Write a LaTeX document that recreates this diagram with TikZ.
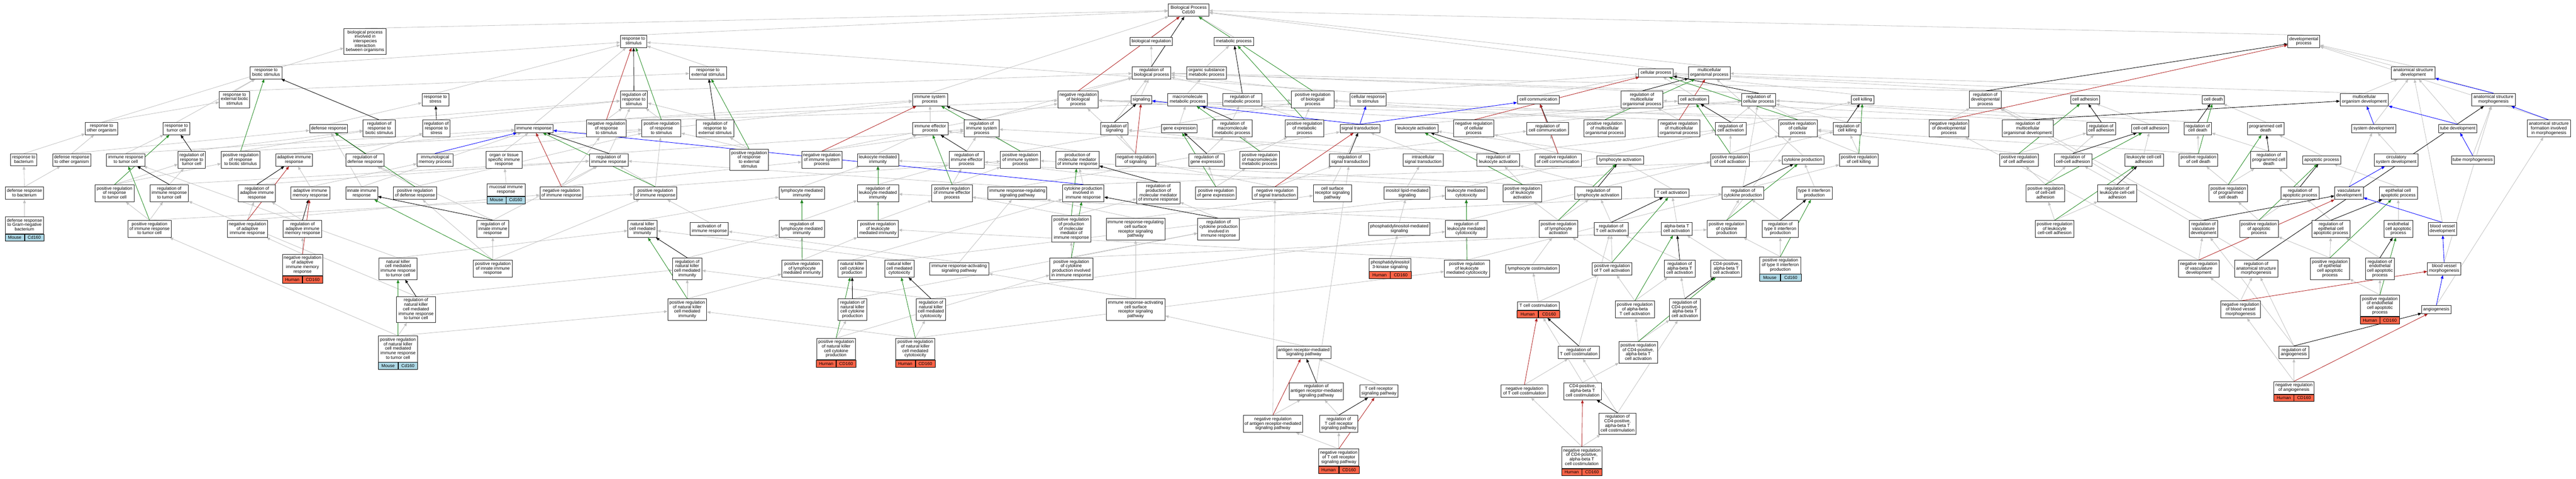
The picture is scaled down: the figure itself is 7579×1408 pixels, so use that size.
\documentclass[tikz,border=0pt]{standalone}
\usepackage{fontspec}
\newfontfamily\nf{Liberation Sans}
\usetikzlibrary{arrows.meta,fit}
\definecolor{eg}{HTML}{C0C0C0}
\definecolor{eG}{HTML}{228B22}
\definecolor{eR}{HTML}{B22222}
\definecolor{eB}{HTML}{0000FF}
\definecolor{mouse}{HTML}{ADD8E6}
\definecolor{human}{HTML}{FF6347}
\newcommand\nstrut{\rule[-3.3pt]{0pt}{13.2pt}}
\pgfdeclarelayer{bg}\pgfdeclarelayer{mid}\pgfsetlayers{bg,mid,main}
\tikzset{
 box/.style={draw=black!85,line width=1.3pt,fill=white,align=center,inner xsep=4pt,inner ysep=5.4pt,
   font=\nf\fontsize{13pt}{13.2pt}\selectfont,execute at begin node=\nstrut,execute at end node=\nstrut},
 gl/.style={draw=black,line width=1pt,inner sep=0pt,minimum height=21pt,font=\nf\fontsize{13pt}{13.2pt}\selectfont},
 etip/.style={-{Triangle[length=10pt,width=8pt]}},
 eisa/.style={draw=eg,line width=1.2pt,etip},
 ereg/.style={draw=black,line width=1.3pt,etip},
 epos/.style={draw=eG,line width=1.3pt,etip},
 eneg/.style={draw=eR,line width=1.3pt,etip},
 eprt/.style={draw=eB,line width=1.3pt,etip}
}
\newcommand\mkn[5]{\node[box,minimum width=#4pt] (#1) at (#2,#3) {#5};}
\newcommand\mkg[8]{\mkn{#1}{#2}{#3}{#4}{#5}%
 \node[gl,fill=#7,minimum width={#4pt/2},anchor=north east] (#1L) at (#1.south) {#6};%
 \node[gl,fill=#7,minimum width={#4pt/2},anchor=north west] (#1R) at (#1.south) {#8};%
 \node[fit=(#1)(#1L)(#1R),inner sep=0pt] (#1all) {};}
\newcommand\mkm[5]{\mkg{#1}{#2}{#3}{#4}{#5}{Mouse}{mouse}{Cd160}}
\newcommand\mkh[5]{\mkg{#1}{#2}{#3}{#4}{#5}{Human}{human}{CD160}}
\begin{document}
\begin{tikzpicture}[x=1pt,y=-1pt]
\useasboundingbox (0,0) rectangle (7579,1408);
% ---------- nodes ----------
\mkn{bpii}{1074}{122}{124}{biological process\\involved in\\interspecies\\interaction\\between organisms}
\mkn{rbs}{783}{214}{95}{response to\\biotic stimulus}
\mkn{rebs}{690}{293}{89}{response to\\external biotic\\stimulus}
\mkn{roo}{299}{378}{96}{response to\\other organism}
\mkn{rtc}{519}{378}{79}{response to\\tumor cell}
\mkn{dr}{967}{378}{112}{defense response}
\mkn{rrbs}{1116}{378}{95}{regulation of\\response to\\biotic stimulus}
\mkn{rb}{70}{470}{78}{response to\\bacterium}
\mkn{droo}{211}{470}{112}{defense response\\to other organism}
\mkn{irtc}{370}{470}{113}{immune response\\to tumor cell}
\mkn{rrtc}{564}{470}{80}{regulation of\\response to\\tumor cell}
\mkn{prrbs}{708}{470}{114}{positive regulation\\of response\\to biotic stimulus}
\mkn{air}{865}{470}{108}{adaptive immune\\response}
\mkn{rdr}{1074}{470}{113}{regulation of\\defense response}
\mkn{imp}{1280}{470}{106}{immunological\\memory process}
\mkn{drb}{72}{568}{113}{defense response\\to bacterium}
\mkn{prrtc}{337}{568}{115}{positive regulation\\of response\\to tumor cell}
\mkn{rirtc}{498}{568}{113}{regulation of\\immune response\\to tumor cell}
\mkn{rair}{756}{568}{109}{regulation of\\adaptive immune\\response}
\mkn{aimr}{913}{568}{114}{adaptive immune\\memory response}
\mkn{iir}{1064}{568}{94}{innate immune\\response}
\mkn{prdr}{1221}{568}{128}{positive regulation\\of defense response}
\mkm{drgnb}{72}{662}{113}{defense response\\to Gram-negative\\bacterium}
\mkn{prirtc}{440}{673}{127}{positive regulation\\of immune response\\to tumor cell}
\mkn{nrair}{728}{673}{117}{negative regulation\\of adaptive\\immune response}
\mkn{raimr}{890}{673}{114}{regulation of\\adaptive immune\\memory response}
\mkh{nraimr}{890}{779}{118}{negative regulation\\of adaptive\\immune memory\\response}
\mkn{nkirtc}{1171}{790}{113}{natural killer\\cell mediated\\immune response\\to tumor cell}
\mkn{rnkirtc}{1224}{910}{114}{regulation of\\natural killer\\cell mediated\\immune response\\to tumor cell}
\mkm{prnkirtc}{1171}{1026}{115}{positive regulation\\of natural killer\\cell mediated\\immune response\\to tumor cell}
\mkn{rs}{1864}{122}{78}{response to\\stimulus}
\mkn{res}{2083}{214}{109}{response to\\external stimulus}
\mkn{rstress}{1281}{293}{79}{response to\\stress}
\mkn{rrs}{1865}{293}{80}{regulation of\\response to\\stimulus}
\mkn{rrstress}{1284}{378}{78}{regulation of\\response to\\stress}
\mkn{ir}{1571}{378}{112}{immune response}
\mkn{nrrs}{1784}{378}{118}{negative regulation\\of response\\to stimulus}
\mkn{prrs}{1946}{378}{115}{positive regulation\\of response\\to stimulus}
\mkn{rres}{2104}{378}{110}{regulation of\\response to\\external stimulus}
\mkn{otsir}{1483}{470}{105}{organ or tissue\\specific immune\\response}
\mkn{rir}{1791}{470}{114}{regulation of\\immune response}
\mkn{prres}{2204}{470}{114}{positive regulation\\of response\\to external\\stimulus}
\mkn{nrisp}{2418}{470}{118}{negative regulation\\of immune system\\process}
\mkn{lmi}{2583}{470}{121}{leukocyte mediated\\immunity}
\mkm{mir}{1489}{558}{111}{mucosal immune\\response}
\mkn{nrir}{1652}{568}{127}{negative regulation\\of immune response}
\mkn{prir}{1928}{568}{127}{positive regulation\\of immune response}
\mkn{lymi}{2359}{568}{134}{lymphocyte mediated\\immunity}
\mkn{rlmi}{2583}{568}{121}{regulation of\\leukocyte mediated\\immunity}
\mkn{riir}{1450}{673}{93}{regulation of\\innate immune\\response}
\mkn{nkmi}{1890}{673}{86}{natural killer\\cell mediated\\immunity}
\mkn{air2}{2087}{673}{112}{activation of\\immune response}
\mkn{rlymi}{2359}{673}{134}{regulation of\\lymphocyte mediated\\immunity}
\mkn{prlmi}{2583}{673}{120}{positive regulation\\of leukocyte\\mediated immunity}
\mkn{priir}{1450}{790}{115}{positive regulation\\of innate immune\\response}
\mkn{rnkmi}{2022}{790}{86}{regulation of\\natural killer\\cell mediated\\immunity}
\mkn{prnkmi}{2022}{910}{115}{positive regulation\\of natural killer\\cell mediated\\immunity}
\mkn{prlymi}{2360}{790}{120}{positive regulation\\of lymphocyte\\mediated immunity}
\mkn{nkcp}{2507}{790}{82}{natural killer\\cell cytokine\\production}
\mkn{rnkcp}{2508}{910}{84}{regulation of\\natural killer\\cell cytokine\\production}
\mkh{prnkcp}{2460}{1026}{115}{positive regulation\\of natural killer\\cell cytokine\\production}
\mkn{bp}{3497}{30}{120}{Biological Process\\Cd160}
\mkn{br}{3387}{122}{125}{biological regulation}
\mkn{mp}{3630}{122}{117}{metabolic process}
\mkn{rbp}{3388}{214}{114}{regulation of\\biological process}
\mkn{osmp}{3550}{214}{116}{organic substance\\metabolic process}
\mkn{isp}{2736}{293}{103}{immune system\\process}
\mkn{nrbp}{3172}{293}{119}{negative regulation\\of biological\\process}
\mkn{sig}{3358}{293}{61}{signaling}
\mkn{mmp}{3494}{293}{116}{macromolecule\\metabolic process}
\mkn{rmp}{3655}{293}{116}{regulation of\\metabolic process}
\mkn{prbp}{3862}{293}{125}{positive regulation\\of biological\\process}
\mkn{iep}{2737}{378}{104}{immune effector\\process}
\mkn{risp}{2888}{378}{103}{regulation of\\immune system\\process}
\mkn{rsig}{3279}{378}{80}{regulation of\\signaling}
\mkn{ge}{3470}{378}{105}{gene expression}
\mkn{rmmp}{3626}{378}{116}{regulation of\\macromolecule\\metabolic process}
\mkn{prmp}{3838}{378}{113}{positive regulation\\of metabolic\\process}
\mkn{riep}{2844}{470}{104}{regulation of\\immune effector\\process}
\mkn{prisp}{3002}{470}{117}{positive regulation\\of immune system\\process}
\mkn{pmmir}{3170}{470}{127}{production of\\molecular mediator\\of immune response}
\mkn{nrsig}{3341}{470}{117}{negative regulation\\of signaling}
\mkn{rge}{3550}{470}{105}{regulation of\\gene expression}
\mkn{prmmp}{3706}{470}{116}{positive regulation\\of macromolecule\\metabolic process}
\mkn{priep}{2801}{568}{119}{positive regulation\\of immune effector\\process}
\mkn{irrsp}{2993}{568}{172}{immune response-regulating\\signaling pathway}
\mkn{cpiir}{3187}{568}{122}{cytokine production\\involved in\\immune response}
\mkn{rpmmir}{3408}{568}{127}{regulation of\\production of\\molecular mediator\\of immune response}
\mkn{prge}{3577}{568}{119}{positive regulation\\of gene expression}
\mkn{nrst}{3751}{568}{134}{negative regulation\\of signal transduction}
\mkn{prpmmir}{3152}{673}{114}{positive regulation\\of production\\of molecular\\mediator of\\immune response}
\mkn{irrcs}{3341}{674}{173}{immune response-regulating\\cell surface\\receptor signaling\\pathway}
\mkn{rcpiir}{3585}{674}{122}{regulation of\\cytokine production\\involved in\\immune response}
\mkn{nkcyt}{2646}{790}{86}{natural killer\\cell mediated\\cytotoxicity}
\mkn{irasp}{2822}{790}{174}{immune response-activating\\signaling pathway}
\mkn{prcpiir}{3152}{790}{127}{positive regulation\\of cytokine\\production involved\\in immune response}
\mkn{rnkcyt}{2739}{910}{86}{regulation of\\natural killer\\cell mediated\\cytotoxicity}
\mkn{iracs}{3341}{910}{173}{immune response-activating\\cell surface\\receptor signaling\\pathway}
\mkh{prnkcyt}{2693}{1026}{116}{positive regulation\\of natural killer\\cell mediated\\cytotoxicity}
\mkn{arsp}{3836}{1036}{160}{antigen receptor-mediated\\signaling pathway}
\mkn{rarsp}{3873}{1150}{160}{regulation of\\antigen receptor-mediated\\signaling pathway}
\mkn{nrarsp}{3745}{1246}{175}{negative regulation\\of antigen receptor-mediated\\signaling pathway}
\mkn{cp}{4872}{214}{101}{cellular process}
\mkn{mop}{5029}{214}{122}{multicellular\\organismal process}
\mkn{crs}{4025}{293}{107}{cellular response\\to stimulus}
\mkn{cc}{4526}{293}{124}{cell communication}
\mkn{rmop}{4831}{293}{123}{regulation of\\multicellular\\organismal process}
\mkn{ca}{4982}{293}{90}{cell activation}
\mkn{st}{4001}{378}{117}{signal transduction}
\mkn{la}{4168}{378}{125}{leukocyte activation}
\mkn{nrcp}{4336}{378}{119}{negative regulation\\of cellular\\process}
\mkn{rcc}{4553}{378}{122}{regulation of\\cell communication}
\mkn{prmop}{4721}{378}{122}{positive regulation\\of multicellular\\organismal process}
\mkn{nrmop}{4940}{378}{122}{negative regulation\\of multicellular\\organismal process}
\mkn{rca}{5092}{378}{90}{regulation of\\cell activation}
\mkn{rst}{3971}{470}{118}{regulation of\\signal transduction}
\mkn{ist}{4187}{470}{119}{intracellular\\signal transduction}
\mkn{rla}{4408}{470}{125}{regulation of\\leukocyte activation}
\mkn{nrcc}{4584}{470}{136}{negative regulation\\of cell communication}
\mkn{lya}{4767}{470}{137}{lymphocyte activation}
\mkn{prca}{5090}{470}{114}{positive regulation\\of cell activation}
\mkn{csrsp}{3920}{568}{112}{cell surface\\receptor signaling\\pathway}
\mkn{ilms}{4140}{568}{135}{inositol lipid-mediated\\signaling}
\mkn{lmc}{4314}{568}{122}{leukocyte mediated\\cytotoxicity}
\mkn{prla}{4479}{568}{114}{positive regulation\\of leukocyte\\activation}
\mkn{rlya}{4702}{568}{137}{regulation of\\lymphocyte activation}
\mkn{tca}{4919}{568}{102}{T cell activation}
\mkn{rcp}{5128}{568}{122}{regulation of\\cytokine production}
\mkn{pims}{4117}{673}{181}{phosphatidylinositol-mediated\\signaling}
\mkn{rlmc}{4314}{673}{122}{regulation of\\leukocyte mediated\\cytotoxicity}
\mkn{prlya}{4585}{673}{114}{positive regulation\\of lymphocyte\\activation}
\mkn{rtca}{4740}{673}{100}{regulation of\\T cell activation}
\mkn{abtca}{4933}{673}{91}{alpha-beta T\\cell activation}
\mkn{prcp}{5080}{673}{115}{positive regulation\\of cytokine\\production}
\mkh{pi3k}{4090}{779}{123}{phosphatidylinositol\\3-kinase signaling}
\mkn{prlmc}{4316}{790}{133}{positive regulation\\of leukocyte\\mediated cytotoxicity}
\mkn{lcs}{4509}{790}{158}{lymphocyte costimulation}
\mkn{prtca}{4743}{790}{117}{positive regulation\\of T cell activation}
\mkn{rabtca}{4942}{790}{91}{regulation of\\alpha-beta T\\cell activation}
\mkn{cd4a}{5079}{790}{91}{CD4-positive,\\alpha-beta T\\cell activation}
\mkh{tcs}{4526}{900}{124}{T cell costimulation}
\mkn{prabtca}{4810}{910}{115}{positive regulation\\of alpha-beta\\T cell activation}
\mkn{rcd4a}{4957}{910}{90}{regulation of\\CD4-positive,\\alpha-beta T\\cell activation}
\mkn{rtcs}{4645}{1036}{122}{regulation of\\T cell costimulation}
\mkn{prcd4a}{4820}{1036}{114}{positive regulation\\of CD4-positive,\\alpha-beta T\\cell activation}
\mkn{tcrsp}{4057}{1150}{113}{T cell receptor\\signaling pathway}
\mkn{nrtcs}{4485}{1150}{138}{negative regulation\\of T cell costimulation}
\mkn{cd4cs}{4656}{1150}{111}{CD4-positive,\\alpha-beta T\\cell costimulation}
\mkn{rtcrsp}{3939}{1246}{112}{regulation of\\T cell receptor\\signaling pathway}
\mkn{rcd4cs}{4759}{1246}{110}{regulation of\\CD4-positive,\\alpha-beta T\\cell costimulation}
\mkh{nrtcrsp}{3939}{1345}{119}{negative regulation\\of T cell receptor\\signaling pathway}
\mkh{nrcd4cs}{4654}{1345}{118}{negative regulation\\of CD4-positive,\\alpha-beta T\\cell costimulation}
\mkn{rcpr}{5174}{293}{101}{regulation of\\cellular process}
\mkn{ck}{5480}{293}{66}{cell killing}
\mkn{rdp}{5841}{293}{94}{regulation of\\developmental\\process}
\mkn{cad}{6135}{293}{86}{cell adhesion}
\mkn{prcpr}{5290}{378}{114}{positive regulation\\of cellular\\process}
\mkn{rck}{5435}{378}{81}{regulation of\\cell killing}
\mkn{nrdp}{5734}{378}{118}{negative regulation\\of developmental\\process}
\mkn{rmod}{5966}{378}{151}{regulation of\\multicellular\\organismal development}
\mkn{rcad}{6182}{378}{86}{regulation of\\cell adhesion}
\mkn{ccad}{6326}{378}{110}{cell-cell adhesion}
\mkn{cytp}{5305}{470}{123}{cytokine production}
\mkn{prck}{5469}{470}{114}{positive regulation\\of cell killing}
\mkn{prcad}{5940}{470}{113}{positive regulation\\of cell adhesion}
\mkn{rccad}{6099}{470}{110}{regulation of\\cell-cell adhesion}
\mkn{lccad}{6308}{470}{114}{leukocyte cell-cell\\adhesion}
\mkn{t2ip}{5338}{568}{105}{type II interferon\\production}
\mkn{prccad}{6018}{568}{114}{positive regulation\\of cell-cell\\adhesion}
\mkn{rlccad}{6229}{568}{114}{regulation of\\leukocyte cell-cell\\adhesion}
\mkn{rt2ip}{5238}{673}{106}{regulation of\\type II interferon\\production}
\mkn{prlccad}{6045}{673}{114}{positive regulation\\of leukocyte\\cell-cell adhesion}
\mkm{prt2ip}{5238}{780}{122}{positive regulation\\of type II interferon\\production}
\mkn{dp}{6778}{122}{94}{developmental\\process}
\mkn{asd}{7100}{214}{128}{anatomical structure\\development}
\mkn{cd}{6512}{293}{66}{cell death}
\mkn{mod}{6956}{293}{142}{multicellular\\organism development}
\mkn{asm}{7336}{293}{128}{anatomical structure\\morphogenesis}
\mkn{rcd}{6466}{378}{81}{regulation of\\cell death}
\mkn{pcd}{6666}{378}{107}{programmed cell\\death}
\mkn{sd}{6984}{378}{130}{system development}
\mkn{td}{7231}{378}{112}{tube development}
\mkn{asfm}{7499}{378}{128}{anatomical structure\\formation involved\\in morphogenesis}
\mkn{prcd}{6468}{470}{113}{positive regulation\\of cell death}
\mkn{rpcd}{6675}{470}{106}{regulation of\\programmed cell\\death}
\mkn{ap}{6831}{470}{112}{apoptotic process}
\mkn{csd}{7050}{470}{129}{circulatory\\system development}
\mkn{tm}{7275}{470}{126}{tube morphogenesis}
\mkn{prpcd}{6556}{568}{114}{positive regulation\\of programmed\\cell death}
\mkn{rap}{6767}{568}{112}{regulation of\\apoptotic process}
\mkn{vd}{6911}{568}{84}{vasculature\\development}
\mkn{ecap}{7056}{568}{112}{epithelial cell\\apoptotic process}
\mkn{rvd}{6483}{673}{83}{regulation of\\vasculature\\development}
\mkn{prap}{6646}{673}{114}{positive regulation\\of apoptotic\\process}
\mkn{recap}{6858}{673}{113}{regulation of\\epithelial cell\\apoptotic process}
\mkn{encap}{7056}{673}{85}{endothelial\\cell apoptotic\\process}
\mkn{bvd}{7186}{673}{83}{blood vessel\\development}
\mkn{nrvd}{6469}{790}{119}{negative regulation\\of vasculature\\development}
\mkn{rasm}{6638}{790}{127}{regulation of\\anatomical structure\\morphogenesis}
\mkn{precap}{6855}{790}{115}{positive regulation\\of epithelial\\cell apoptotic\\process}
\mkn{rencap}{7002}{790}{86}{regulation of\\endothelial\\cell apoptotic\\process}
\mkn{bvm}{7191}{790}{98}{blood vessel\\morphogenesis}
\mkn{nrbvm}{6592}{910}{117}{negative regulation\\of blood vessel\\morphogenesis}
\mkh{prencap}{7002}{899}{115}{positive regulation\\of endothelial\\cell apoptotic\\process}
\mkn{ang}{7168}{910}{86}{angiogenesis}
\mkn{rang}{6749}{1036}{87}{regulation of\\angiogenesis}
\mkh{nrang}{6749}{1140}{117}{negative regulation\\of angiogenesis}
% ---------- edges ----------
\begin{pgfonlayer}{bg}
\fill[white] (0,0) rectangle (7579,1408);
\foreach \a/\b in {bpii/bp,rbs/rs,rebs/rbs,rebs/res,roo/bpii,roo/rebs,rtc/rbs,dr/rstress,rrbs/rrs,rb/roo,droo/roo,droo/dr,irtc/rtc,irtc/ir,rrtc/rrbs,prrbs/rrbs,prrbs/prrs,air/ir,rdr/rrstress,imp/isp,drb/rb,drb/droo,prrtc/rrtc,prrtc/prrbs,rirtc/rrtc,rirtc/rir,rair/rir,aimr/air,aimr/imp,iir/ir,iir/dr,prdr/rdr,prdr/prrs,drgnb/drb,prirtc/rirtc,prirtc/prrtc,prirtc/prir,nrair/rair,nrair/nrir,raimr/rair,nraimr/raimr,nraimr/nrair,nkirtc/irtc,nkirtc/nkmi,rnkirtc/rirtc,rnkirtc/rnkmi,prnkirtc/rnkirtc,prnkirtc/prirtc,prnkirtc/prnkmi,
rs/bp,res/rs,rstress/rs,rrs/rbp,rrstress/rrs,ir/isp,ir/rs,nrrs/rrs,nrrs/nrbp,prrs/rrs,prrs/prbp,rres/rrs,otsir/ir,rir/risp,rir/rrs,prres/rres,prres/prrs,nrisp/risp,nrisp/nrbp,lmi/iep,mir/otsir,nrir/rir,nrir/nrisp,nrir/nrrs,prir/rir,prir/prisp,prir/prrs,lymi/lmi,rlmi/riep,riir/rir,riir/rdr,nkmi/lymi,air2/prir,rlymi/rlmi,prlmi/rlmi,prlmi/priep,priir/riir,priir/prir,priir/prdr,rnkmi/rlymi,prnkmi/rnkmi,prnkmi/prlymi,prlymi/rlymi,prlymi/prlmi,nkcp/cpiir,rnkcp/rcpiir,prnkcp/rnkcp,prnkcp/prcpiir,
br/bp,mp/bp,rbp/br,osmp/mp,isp/bp,nrbp/rbp,sig/rbp,mmp/osmp,rmp/rbp,prbp/rbp,iep/isp,risp/rbp,rsig/rbp,ge/mmp,rmmp/rmp,prmp/rmp,prmp/prbp,riep/risp,prisp/risp,prisp/prbp,pmmir/iep,nrsig/rsig,nrsig/nrbp,rge/rmmp,prmmp/rmmp,prmmp/prmp,priep/riep,priep/prisp,irrsp/rir,irrsp/st,cpiir/pmmir,cpiir/cytp,rpmmir/riep,prge/rge,prge/prmmp,nrst/rst,nrst/nrsig,prpmmir/rpmmir,prpmmir/priep,irrcs/irrsp,irrcs/csrsp,rcpiir/rpmmir,rcpiir/rcp,nkcyt/lmc,nkcyt/nkmi,irasp/irrsp,irasp/air2,prcpiir/rcpiir,prcpiir/prpmmir,prcpiir/prcp,rnkcyt/rlmc,rnkcyt/rnkmi,iracs/irasp,iracs/irrcs,prnkcyt/rnkcyt,prnkcyt/prlmc,prnkcyt/prnkmi,arsp/iracs,rarsp/rst,nrarsp/rarsp,nrarsp/nrst,
cp/bp,mop/bp,crs/rs,crs/cp,cc/cp,rmop/rbp,ca/cp,la/ca,nrcp/rcpr,nrcp/nrbp,rcc/rcpr,prmop/rmop,prmop/prbp,nrmop/rmop,nrmop/nrbp,rca/rcpr,rst/rsig,rst/rcc,ist/st,rla/rca,rla/risp,nrcc/rcc,nrcc/nrcp,lya/la,prca/rca,prca/prcpr,csrsp/st,ilms/ist,lmc/lmi,lmc/ck,prla/rla,prla/prca,prla/prisp,rlya/rla,tca/lya,rcp/rcpr,pims/ilms,rlmc/rlmi,rlmc/rck,prlya/rlya,prlya/prla,rtca/rlya,abtca/tca,prcp/rcp,prcp/prcpr,pi3k/pims,prlmc/rlmc,prlmc/prlmi,prlmc/prck,lcs/prlya,prtca/rtca,prtca/prlya,rabtca/rtca,cd4a/abtca,tcs/lcs,tcs/prtca,prabtca/rabtca,prabtca/prtca,rcd4a/rabtca,rtcs/rtca,prcd4a/rcd4a,prcd4a/prabtca,tcrsp/arsp,nrtcs/rtcs,cd4cs/tcsall,cd4cs/prcd4a,rtcrsp/rarsp,rcd4cs/rtcs,rcd4cs/rcd4a,nrtcrsp/rtcrsp,nrtcrsp/nrarsp,nrcd4cs/rcd4cs,nrcd4cs/nrtcs,
rcpr/rbp,ck/cp,rdp/rbp,cad/cp,prcpr/rcpr,prcpr/prbp,rck/rcpr,nrdp/rdp,nrdp/nrbp,rmod/rdp,rmod/rmop,rcad/rcpr,ccad/cad,cytp/mop,prck/rck,prck/prcpr,prcad/rcad,prcad/prcpr,rccad/rcad,lccad/ccad,t2ip/cytp,prccad/rccad,prccad/prcad,rlccad/rccad,rt2ip/rcp,prlccad/rlccad,prlccad/prccad,prt2ip/rt2ip,prt2ip/prcp,
dp/bp,asd/dp,cd/cp,mod/asd,mod/mop,asm/dp,rcd/rcpr,pcd/cd,sd/asd,td/asd,asfm/dp,prcd/rcd,prcd/prcpr,rpcd/rcd,ap/pcd,csd/sd,tm/asm,prpcd/rpcd,prpcd/prcd,rap/rpcd,vd/sd,ecap/ap,rvd/rdp,prap/rap,prap/prpcd,recap/rap,encap/ecap,bvd/asd,nrvd/rvd,nrvd/nrdp,rasm/rdp,precap/recap,precap/prap,rencap/recap,bvm/asm,nrbvm/nrvd,nrbvm/rasm,prencap/rencap,prencap/precap,ang/asfm,rang/rasm,rang/rvd,nrang/rang,nrang/nrbvm}
 {\draw[eisa] (\a.north) -- (\b);}
\end{pgfonlayer}
\begin{pgfonlayer}{mid}
\foreach \a/\b in {rrbs/rbs,rrtc/rtc,rirtc/irtc,rdr/dr,rair/air,raimr/aimr,riir/iir,rnkirtc/nkirtc,rrs/rs,rres/res,rrstress/rstress,rir/ir,rlymi/lymi,rlmi/lmi,rnkmi/nkmi,rnkcp/nkcp,rbp/bp,rmp/mp,risp/isp,riep/iep,rsig/sig,rmmp/mmp,rge/ge,rpmmir/pmmir,rcpiir/cpiir,rnkcyt/nkcyt,rarsp/arsp,rst/st,rcc/cc,rla/la,rmop/mop,rca/ca,rlya/lya,rlmc/lmc,rtca/tca,rcpr/cp,rtcrsp/tcrsp,rtcs/tcsall,rcd4cs/cd4cs,rabtca/abtca,rcd4a/cd4a,rck/ck,rcp/cytp,rt2ip/t2ip,rcad/cad,rccad/ccad,rlccad/lccad,rdp/dp,rmod/mod,rcd/cd,rpcd/pcd,rap/ap,rvd/vd,recap/ecap,rencap/encap,rasm/asm,rang/ang}
 {\draw[ereg] (\a.north) -- (\b);}
\foreach \a/\b in {prrbs/rbs,prrtc/rtc,prirtc/irtc,prdr/dr,prnkirtc/nkirtc,prrs/rs,prres/res,prir/ir,priir/iir,prlymi/lymi,prlmi/lmi,prnkmi/nkmi,prnkcp/nkcp,prbp/bp,prmp/mp,prisp/isp,priep/iep,prmmp/mmp,prge/ge,prpmmir/pmmir,prcpiir/cpiir,prnkcyt/nkcyt,prla/la,prmop/mop,prca/ca,prlya/lya,prlmc/lmc,prtca/tca,prcpr/cp,prabtca/abtca,prcd4a/cd4a,prck/ck,prcp/cytp,prt2ip/t2ip,prcad/cad,prccad/ccad,prlccad/lccad,prcd/cd,prpcd/pcd,prap/ap,precap/ecap,prencap/encap}
 {\draw[epos] (\a.north) -- (\b);}
\foreach \a/\b in {nrair/air,nraimr/aimr,nrrs/rs,nrir/ir,nrisp/isp,nrbp/bp,nrsig/sig,nrst/st,nrarsp/arsp,nrcp/cp,nrcc/cc,nrmop/mop,nrtcrsp/tcrsp,nrtcs/tcsall,nrcd4cs/cd4cs,nrdp/dp,nrvd/vd,nrbvm/bvm,nrang/ang}
 {\draw[eneg] (\a.north) -- (\b);}
\foreach \a/\b in {imp/ir,cpiir/ir,st/sig,st/crs,st/cc,sd/mod,td/mod,asm/asd,asfm/asm,tm/td,vd/csd,bvd/vd,bvm/bvd,ang/bvm}
 {\draw[eprt] (\a.north) -- (\b);}
\end{pgfonlayer}
\end{tikzpicture}
\end{document}
